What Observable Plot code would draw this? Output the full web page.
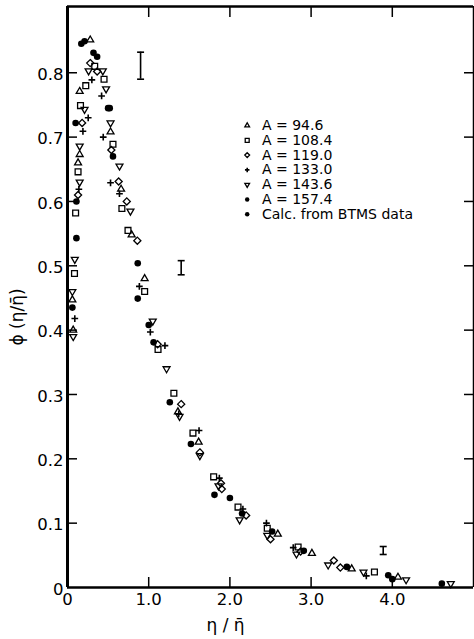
<!DOCTYPE html>
<html><head><meta charset="utf-8">
<script src="https://cdn.jsdelivr.net/npm/d3@7"></script>
<script src="https://cdn.jsdelivr.net/npm/@observablehq/plot@0.6"></script>
<style>body{margin:0;background:#fff}</style>
</head><body><div id="chart"></div>
<script>
// ---- data ----
const legendLabels = ["A = 94.6","A = 108.4","A = 119.0","A = 133.0","A = 143.6","A = 157.4","Calc. from BTMS data"];

// A = 94.6 (open triangles)
const triX = [0.28,0.15,0.53,0.66,0.15,0.13,0.79,0.95,0.06,0.07,1.36,1.615,2.59,3.01,3.50,4.07];
const triY = [0.851,0.771,0.708,0.619,0.673,0.66,0.548,0.48,0.447,0.40,0.273,0.226,0.083,0.053,0.029,0.016];
// A = 108.4 (open squares)
const sqX = [0.335,0.45,0.225,0.16,0.56,0.13,0.10,0.67,0.745,0.086,0.95,1.115,1.31,1.545,1.80,2.10,2.46,2.84,3.78];
const sqY = [0.81,0.79,0.78,0.749,0.689,0.646,0.582,0.589,0.555,0.488,0.46,0.37,0.302,0.24,0.172,0.125,0.092,0.063,0.024];
// A = 119.0 (open diamonds)
const diX = [0.28,0.365,0.18,0.54,0.63,0.13,0.73,0.86,1.11,1.40,1.63,1.89,1.90,2.20,2.50,2.87,3.28,3.36];
const diY = [0.815,0.802,0.722,0.68,0.631,0.61,0.60,0.539,0.378,0.285,0.21,0.162,0.153,0.112,0.075,0.056,0.042,0.031];
// A = 133.0 (plus)
const plX = [0.30,0.42,0.255,0.19,0.44,0.53,0.64,0.14,0.09,0.885,1.02,1.20,1.37,1.62,1.87,2.16,2.45,2.78,3.68];
const plY = [0.789,0.764,0.73,0.709,0.70,0.629,0.612,0.619,0.418,0.468,0.397,0.376,0.27,0.244,0.17,0.122,0.10,0.062,0.018];
// A = 143.6 (open inverted triangles)
const itX = [0.26,0.435,0.475,0.21,0.53,0.15,0.64,0.15,0.775,0.09,0.06,0.07,1.05,1.22,1.38,1.63,1.86,2.12,2.46,2.82,3.21,3.645,4.17,4.72];
const itY = [0.803,0.803,0.775,0.743,0.722,0.686,0.655,0.63,0.585,0.51,0.46,0.39,0.414,0.34,0.266,0.205,0.158,0.105,0.081,0.052,0.035,0.024,0.012,0.006];
// A = 157.4 (filled circles)
const c1X = [0.21,0.365,0.52,0.11,0.06,1.0,1.06,2.15,2.52,2.91,3.44,4.0];
const c1Y = [0.849,0.825,0.745,0.60,0.435,0.408,0.381,0.115,0.087,0.057,0.032,0.013];
// Calc. from BTMS data (filled circles)
const c2X = [0.17,0.32,0.50,0.10,0.56,0.11,0.865,0.865,1.26,1.52,1.81,2.0,3.95,4.61];
const c2Y = [0.845,0.831,0.745,0.722,0.67,0.543,0.504,0.449,0.288,0.223,0.144,0.139,0.019,0.006];

// error bars
const errX = [0.90,1.40,3.888];
const errLo = [0.790,0.486,0.0513];
const errHi = [0.832,0.508,0.0637];

// ticks
const xTicks = [0,1,2,3,4];
const yTicks = [0,0.1,0.2,0.3,0.4,0.5,0.6,0.7,0.8];

// ---- helpers ----
const invTriangle = {draw(ctx, size){const s=Math.sqrt(size)*0.6824,t=s/2,u=s*Math.sqrt(3)/2;ctx.moveTo(0,s);ctx.lineTo(u,-t);ctx.lineTo(-u,-t);ctx.closePath();}};
const capSym = {draw(ctx, size){const w=Math.sqrt(size);ctx.moveTo(-w,0);ctx.lineTo(w,0);}};
const rows = (xs, ys) => xs.map((x,i) => ({x, y: ys[i]}));

const styles = [
  {xs: triX, ys: triY, symbol: "triangle2", r: 3.3, fill: "none", stroke: "black", sw: 1.3},
  {xs: sqX,  ys: sqY,  symbol: "square2",   r: 3.7, fill: "none", stroke: "black", sw: 1.3},
  {xs: diX,  ys: diY,  symbol: "diamond2",  r: 3.2, fill: "none", stroke: "black", sw: 1.3},
  {xs: plX,  ys: plY,  symbol: "plus",      r: 2.3, fill: "none", stroke: "black", sw: 1.6},
  {xs: itX,  ys: itY,  symbol: invTriangle, r: 3.3, fill: "none", stroke: "black", sw: 1.3},
  {xs: c1X,  ys: c1Y,  symbol: "circle",    r: 3.3, fill: "black", stroke: "none", sw: 0},
  {xs: c2X,  ys: c2Y,  symbol: "circle",    r: 3.3, fill: "black", stroke: "none", sw: 0}
];

const errs = errX.map((x,i) => ({x, lo: errLo[i], hi: errHi[i]}));
const fmt = d => d === 0 ? "0" : d.toFixed(1);

const marks = [];
// data
styles.forEach(s => {
  marks.push(Plot.dot(rows(s.xs, s.ys), {x: "x", y: "y", symbol: s.symbol, r: s.r, fill: s.fill, stroke: s.stroke, strokeWidth: s.sw}));
});
// error bars
marks.push(Plot.ruleX(errs, {x: "x", y1: "lo", y2: "hi", strokeWidth: 1.6}));
marks.push(Plot.dot(errs, {x: "x", y: "lo", symbol: capSym, r: 1.97, stroke: "black", strokeWidth: 1.6}));
marks.push(Plot.dot(errs, {x: "x", y: "hi", symbol: capSym, r: 1.97, stroke: "black", strokeWidth: 1.6}));
// legend
legendLabels.forEach((lab, i) => {
  const s = styles[i];
  const dy = 119 + 14.8 * i;
  marks.push(Plot.dot([lab], {frameAnchor: "top-left", dx: 179.7, dy, symbol: s.symbol, r: s.r * 0.68, fill: s.fill, stroke: s.stroke, strokeWidth: s.sw}));
  marks.push(Plot.text([lab], {frameAnchor: "top-left", dx: 194.5, dy, text: d => d, textAnchor: "start", lineAnchor: "middle", fontSize: 14, fill: "black"}));
});
// frame
marks.push(Plot.ruleX([0], {strokeWidth: 3}));
marks.push(Plot.ruleY([0], {strokeWidth: 2.5}));
marks.push(Plot.ruleY([0.903], {strokeWidth: 2.5}));
marks.push(Plot.ruleX([5], {strokeWidth: 1.5}));
// inward ticks
const fw = 406, fh = 581;
marks.push(Plot.tickX(xTicks.slice(1), {x: d => d, insetTop: fh - 10, strokeWidth: 1.5}));
marks.push(Plot.tickX(xTicks.slice(1), {x: d => d, insetBottom: fh - 11, strokeWidth: 1.5}));
marks.push(Plot.tickY(yTicks.slice(1), {y: d => d, insetRight: fw - 10, strokeWidth: 1.5}));
marks.push(Plot.tickY(yTicks.slice(1), {y: d => d, insetLeft: fw - 9, strokeWidth: 1.5}));
// axes labels
marks.push(Plot.axisX(xTicks, {tickSize: 0, tickPadding: 6, tickFormat: fmt, fontSize: 16.5, label: null}));
marks.push(Plot.axisY(yTicks, {tickSize: 0, tickPadding: 4, dy: 2, tickFormat: fmt, fontSize: 16.5, label: null}));
marks.push(Plot.text(["η / η\u0304"], {frameAnchor: "bottom", dx: -45, dy: 43, fontSize: 17, fill: "black"}));
marks.push(Plot.text(["ϕ (η/η\u0304)"], {frameAnchor: "left", dx: -50, dy: 48.5, rotate: -90, fontSize: 17, fill: "black"}));

const chart = Plot.plot({
  width: 474, height: 639,
  marginLeft: 67, marginRight: 1, marginTop: 6, marginBottom: 52,
  style: {fontFamily: "DejaVu Sans", background: "white", color: "black"},
  x: {domain: [0, 5]},
  y: {domain: [0, 0.903]},
  marks
});
document.getElementById("chart").appendChild(chart);
</script>
</body></html>
